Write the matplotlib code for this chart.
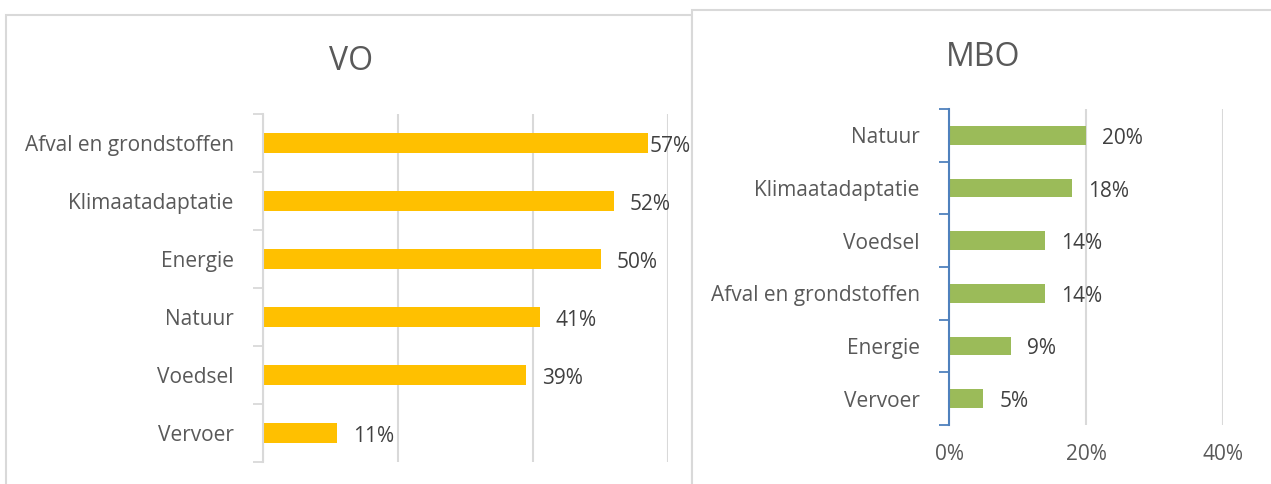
import matplotlib
matplotlib.use("Agg")
import matplotlib.pyplot as plt
from matplotlib.patches import Rectangle
from matplotlib.ticker import FixedLocator, PercentFormatter

# data
vo_cats = ['Afval en grondstoffen', 'Klimaatadaptatie', 'Energie', 'Natuur', 'Voedsel', 'Vervoer']
vo_vals = [57, 52, 50, 41, 39, 11]
mbo_cats = ['Natuur', 'Klimaatadaptatie', 'Voedsel', 'Afval en grondstoffen', 'Energie', 'Vervoer']
mbo_vals = [20, 18, 14, 14, 9, 5]

plt.rcParams['font.family'] = ['Open Sans', 'DejaVu Sans']
W, H = 1271, 484
fig = plt.figure(figsize=(W / 100, H / 100), dpi=100)

def px(x0, y0, x1, y1):
    # pixel box (top-left origin) -> figure fraction
    return [x0 / W, 1 - y1 / H, (x1 - x0) / W, (y1 - y0) / H]

# panel frames
fig.add_artist(Rectangle((6 / W, -0.1), (692 - 6) / W, 1.1 - 15 / H, transform=fig.transFigure,
                         facecolor='white', edgecolor='#D9D9D9', lw=1.5, zorder=0))
fig.add_artist(Rectangle((692 / W, -0.1), 0.5, 1.1 - 10 / H, transform=fig.transFigure,
                         facecolor='white', edgecolor='#D9D9D9', lw=1.5, zorder=1))

txt = '#595959'
lab = '#404040'
FS = 15


def draw(ax, cats, vals, color, xmax, spine_col, offsets):
    n = len(cats)
    ypos = list(range(n))
    ax.barh(ypos, vals, height=0.35, color=color, zorder=3)
    ax.set_ylim(n - 0.5, -0.5)
    ax.set_xlim(0, xmax)
    ax.set_yticks(ypos)
    ax.set_yticklabels(cats, fontsize=FS, color=txt)
    ax.yaxis.set_minor_locator(FixedLocator([i - 0.5 for i in range(n + 1)]))
    ax.tick_params(axis='y', which='major', length=0, pad=21)
    ax.tick_params(axis='y', which='minor', length=7, width=1.3, color=spine_col)
    ax.xaxis.set_major_locator(FixedLocator(list(range(0, xmax + 1, 20))))
    ax.xaxis.set_major_formatter(PercentFormatter(decimals=0))
    ax.tick_params(axis='x', length=0, labelsize=FS, labelcolor=txt, pad=14)
    ax.grid(axis='x', color='#D9D9D9', lw=1.5, zorder=0)
    for s in ['top', 'right', 'bottom']:
        ax.spines[s].set_visible(False)
    ax.spines['left'].set_color(spine_col)
    ax.spines['left'].set_linewidth(1.5)
    ax.spines['left'].set_zorder(4)
    for y, v, off in zip(ypos, vals, offsets):
        ax.annotate(f'{v}%', (v, y), xytext=(off, -3), textcoords='offset pixels',
                    va='center', ha='left', fontsize=FS, color=lab)
    ax.set_facecolor('none')


ax1 = fig.add_axes(px(263, 114, 668, 462), zorder=2)
draw(ax1, vo_cats, vo_vals, '#FFC000', 60, '#D9D9D9', [2, 16, 16, 16, 16, 16])
ax1.tick_params(axis='x', labelbottom=False)
fig.text(351 / W, 1 - 61 / H, 'VO', ha='center', va='center', fontsize=23, color=txt)

ax2 = fig.add_axes(px(949, 109, 1223, 425), zorder=3)
draw(ax2, mbo_cats, mbo_vals, '#9BBB59', 40, '#4F81BD', [16] * 6)
fig.text(983 / W, 1 - 57 / H, 'MBO', ha='center', va='center', fontsize=23, color=txt)

fig.savefig('out.png', dpi=100)
